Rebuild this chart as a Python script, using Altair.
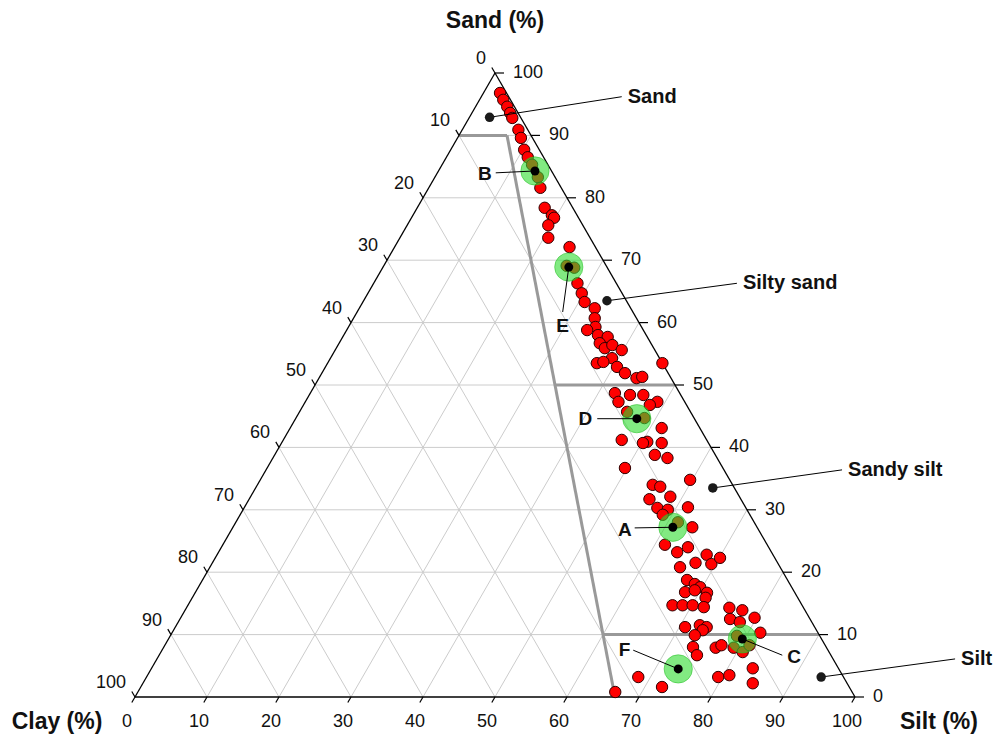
import altair as alt
import pandas as pd

# ---------------- data (percent) ----------------
sand = [96.8, 95.7, 94.6, 93.6, 92.8, 90.9, 89.6, 87.7, 86.5, 85.3, 83.3, 81.6, 78.4, 77.2,
        76.8, 75.6, 73.6, 72.1, 69.1, 68.8, 66.3, 64.7, 63.3, 62.3, 60.7, 59.3, 58.8, 58.0,
        57.7, 56.7, 55.9, 56.4, 55.6, 54.3, 53.5, 53.7, 52.9, 51.9, 51.1, 51.3, 53.5, 48.7,
        47.3, 48.4, 48.4, 47.3, 45.7, 46.8, 44.7, 43.1, 41.2, 40.9, 40.7, 40.7, 38.8, 38.3,
        36.7, 34.8, 34.0, 33.7, 31.7, 32.1, 30.3, 30.0, 30.4, 29.2, 27.2, 28.0, 24.4, 23.2,
        24.0, 20.8, 21.5, 22.8, 21.3, 22.3, 18.75, 18.1, 17.6, 16.8, 17.1, 16.7, 15.9, 14.7,
        14.7, 14.7, 14.4, 14.3, 13.9, 12.5, 12.0, 12.7, 11.2, 11.5, 11.2, 10.7, 9.9, 10.3,
        8.0, 6.7, 7.9, 8.3, 7.9, 7.2, 9.8, 8.3, 3.2, 3.5, 4.6, 2.2, 3.2, 1.6, 0.8]
silt = [2.3, 3.3, 4.4, 5.3, 6.0, 7.8, 8.8, 10.2, 11.3, 12.5, 14.3, 15.5, 17.7, 19.3,
        19.8, 19.6, 20.6, 24.3, 25.4, 26.6, 28.3, 29.7, 30.8, 32.7, 33.5, 34.3, 33.4, 35.3,
        36.8, 36.2, 37.3, 38.1, 39.8, 39.1, 37.4, 38.2, 40.5, 42.1, 44.1, 44.8, 46.5, 42.3,
        43.5, 44.55, 46.4, 48.9, 45.5, 48.1, 48.4, 51.6, 47.0, 50.7, 50.2, 52.8, 52.8, 54.8,
        49.7, 59.7, 54.9, 56.1, 55.6, 58.3, 57.4, 59.0, 61.6, 58.7, 63.8, 61.4, 61.4, 63.7,
        64.8, 65.3, 67.1, 68.0, 69.4, 70.1, 67.3, 68.7, 69.7, 68.0, 69.2, 71.1, 71.3, 67.3,
        68.7, 70.1, 71.8, 75.4, 77.4, 76.4, 78.0, 79.7, 70.8, 72.7, 73.8, 73.5, 72.8, 81.7,
        73.5, 74.7, 76.7, 77.3, 79.2, 80.8, 78.7, 81.2, 79.4, 80.8, 83.5, 84.7, 68.3, 72.4, 66.3]
assert len(sand) == len(silt)

hl_label = ["A", "B", "C", "D", "E", "F"]
hl_sand = [27.2, 84.3, 9.3, 44.6, 68.9, 4.5]
hl_silt = [61.1, 13.4, 79.7, 47.4, 25.8, 73.2]

class_label = ["Sand", "Silty sand", "Sandy silt", "Silt"]
class_sand = [92.9, 63.5, 33.5, 3.2]
class_silt = [2.8, 33.8, 63.5, 93.7]

tick_values = [0, 10, 20, 30, 40, 50, 60, 70, 80, 90, 100]
boundary_sand = [90, 50, 10]
silt_share = 2 / 3  # silt : clay = 2 : 1 boundary

# ---------------- layout (plot units: X 0-100 across, Y = sand) ----------------
PX, PY = 7.2, 6.24  # pixels per unit
class_end_x = [67.6, 83.6, 98.2, 113.9]
class_end_y = [96.2, 66.3, 36.4, 6.1]
hl_end_x = [69.4, 50.1, 89.9, 64.2, 59.4, 69.2]
hl_end_y = [27.1, 84.0, 6.7, 44.6, 61.7, 7.5]
hl_align = ["right", "right", "left", "right", "center", "right"]
hl_dx = [-3, -4, 5, -5, 0, -3]
hl_dy = [2, 1, 2, 0, 14, 0]

FONT = "Liberation Sans"
xs = alt.Scale(domain=[0, 100], nice=False, zero=False)
ys = alt.Scale(domain=[0, 100], nice=False, zero=False)


def X(f):
    return alt.X(f, type="quantitative", scale=xs, axis=None)


def Y(f):
    return alt.Y(f, type="quantitative", scale=ys, axis=None)


# ---------------- frames ----------------
pts = pd.DataFrame({"sand": sand, "silt": silt})
hl = pd.DataFrame({"label": hl_label, "sand": hl_sand, "silt": hl_silt,
                   "ex": hl_end_x, "ey": hl_end_y, "align": hl_align,
                   "tx": [e + d / PX for e, d in zip(hl_end_x, hl_dx)],
                   "ty": [e - d / PY for e, d in zip(hl_end_y, hl_dy)]})
cls = pd.DataFrame({"label": class_label, "sand": class_sand, "silt": class_silt,
                    "ex": class_end_x, "ey": class_end_y,
                    "tx": [e + 6 / PX for e in class_end_x]})

grid_rows = []
for k in tick_values[1:-1]:
    grid_rows.append(dict(x=k / 2, y=k, x2=100 - k / 2, y2=k))
    grid_rows.append(dict(x=k, y=0, x2=k + (100 - k) / 2, y2=100 - k))
    grid_rows.append(dict(x=100 - k, y=0, x2=(100 - k) / 2, y2=100 - k))
grid = pd.DataFrame(grid_rows)

edges = pd.DataFrame([dict(x=0, y=0, x2=100, y2=0), dict(x=0, y=0, x2=50, y2=100),
                      dict(x=100, y=0, x2=50, y2=100)])


def on_line(s):
    return (100 - s) * silt_share + s / 2


bnd_rows = [dict(x=boundary_sand[0] / 2, y=boundary_sand[0],
                 x2=on_line(boundary_sand[0]), y2=boundary_sand[0]),
            dict(x=on_line(boundary_sand[0]), y=boundary_sand[0], x2=on_line(0), y2=0)]
for s in boundary_sand[1:]:
    bnd_rows.append(dict(x=on_line(s), y=s, x2=100 - s / 2, y2=s))
bnd = pd.DataFrame(bnd_rows)

tick_rows = []
for v in tick_values:
    tick_rows.append(dict(x=v, y=0, x2=v - 3.2 / PX, y2=-5.5 / PY))            # silt (bottom)
    tick_rows.append(dict(x=100 - v / 2, y=v, x2=100 - v / 2 + 9 / PX, y2=v))  # sand (right)
    tick_rows.append(dict(x=(100 - v) / 2, y=100 - v, x2=(100 - v) / 2 - 3.2 / PX,
                          y2=100 - v + 5.5 / PY))                               # clay (left)
tks = pd.DataFrame(tick_rows)

bottom_lab = pd.DataFrame({"t": [str(v) for v in tick_values],
                           "x": tick_values, "y": [0] * len(tick_values)})
right_lab = pd.DataFrame({"t": [str(v) for v in tick_values],
                          "x": [100 - v / 2 for v in tick_values], "y": tick_values})
left_lab = pd.DataFrame({"t": [str(v) for v in tick_values],
                         "x": [(100 - v) / 2 for v in tick_values],
                         "y": [100 - v for v in tick_values]})

titles = pd.DataFrame({"t": ["Sand (%)", "Clay (%)", "Silt (%)"],
                       "x": [50, (57 - 135) / PX, (939 - 135) / PX],
                       "y": [(697 - 21) / PY, (697 - 722) / PY, (697 - 722) / PY]})

calc = "datum.silt + datum.sand / 2"

# ---------------- layers ----------------
grid_l = alt.Chart(grid).mark_rule(color="#cccccc", strokeWidth=1).encode(
    x=X("x"), y=Y("y"), x2="x2", y2="y2")
bnd_l = alt.Chart(bnd).mark_rule(color="#999999", strokeWidth=3).encode(
    x=X("x"), y=Y("y"), x2="x2", y2="y2")
edge_l = alt.Chart(edges).mark_rule(color="#000000", strokeWidth=1.3).encode(
    x=X("x"), y=Y("y"), x2="x2", y2="y2")
tick_l = alt.Chart(tks).mark_rule(color="#000000", strokeWidth=1.2).encode(
    x=X("x"), y=Y("y"), x2="x2", y2="y2")

bl = alt.Chart(bottom_lab).mark_text(font=FONT, fontSize=18, dx=-8, dy=25, align="center",
                                     baseline="middle", color="#111").encode(
    x=X("x"), y=Y("y"), text="t:N")
rl = alt.Chart(right_lab).mark_text(font=FONT, fontSize=18, dx=18, align="left",
                                    baseline="middle", color="#111").encode(
    x=X("x"), y=Y("y"), text="t:N")
ll = alt.Chart(left_lab).mark_text(font=FONT, fontSize=18, dx=-9, dy=-14, align="right",
                                   baseline="middle", color="#111").encode(
    x=X("x"), y=Y("y"), text="t:N")
tl = alt.Chart(titles).mark_text(font=FONT, fontSize=23, fontWeight="bold", align="center",
                                 baseline="middle", color="#111").encode(
    x=X("x"), y=Y("y"), text="t:N")

red_l = alt.Chart(pts).transform_calculate(X=calc).mark_circle(
    size=130, color="#ff0000", stroke="#300000", strokeWidth=1, opacity=1).encode(
    x=X("X"), y=Y("sand"))

green_l = alt.Chart(hl).transform_calculate(X=calc).mark_circle(
    size=800, color="#2edc2e", fillOpacity=0.6, stroke="#22bb22", strokeOpacity=0.5,
    strokeWidth=1).encode(x=X("X"), y=Y("sand"))
hl_dot = alt.Chart(hl).transform_calculate(X=calc).mark_circle(
    size=80, color="#000000", opacity=1).encode(x=X("X"), y=Y("sand"))
hl_line = alt.Chart(hl).transform_calculate(X=calc).mark_rule(
    color="#000000", strokeWidth=1).encode(x=X("X"), y=Y("sand"), x2="ex", y2="ey")
hl_text = []
for al in ["left", "center", "right"]:
    hl_text.append(alt.Chart(hl[hl["align"] == al]).mark_text(
        font=FONT, fontSize=19, fontWeight="bold", align=al, baseline="middle",
        color="#111").encode(x=X("tx"), y=Y("ty"), text="label:N"))

cls_dot = alt.Chart(cls).transform_calculate(X=calc).mark_circle(
    size=90, color="#1a1a1a", opacity=1).encode(x=X("X"), y=Y("sand"))
cls_line = alt.Chart(cls).transform_calculate(X=calc).mark_rule(
    color="#000000", strokeWidth=1).encode(x=X("X"), y=Y("sand"), x2="ex", y2="ey")
cls_text = alt.Chart(cls).mark_text(font=FONT, fontSize=20, fontWeight="bold", align="left",
                                    baseline="middle", color="#111").encode(
    x=X("tx"), y=Y("ey"), text="label:N")

chart = alt.layer(
    grid_l, bnd_l, edge_l, tick_l, bl, rl, ll, tl,
    red_l, green_l, hl_dot, hl_line, *hl_text, cls_line, cls_dot, cls_text
).properties(
    width=720, height=624,
    padding={"left": 135, "top": 73, "right": 140, "bottom": 46},
    autosize=alt.AutoSizeParams(type="none"),
    background="white",
).configure_view(stroke=None)

chart.save("out.html", embed_options={"renderer": "svg", "actions": False})
